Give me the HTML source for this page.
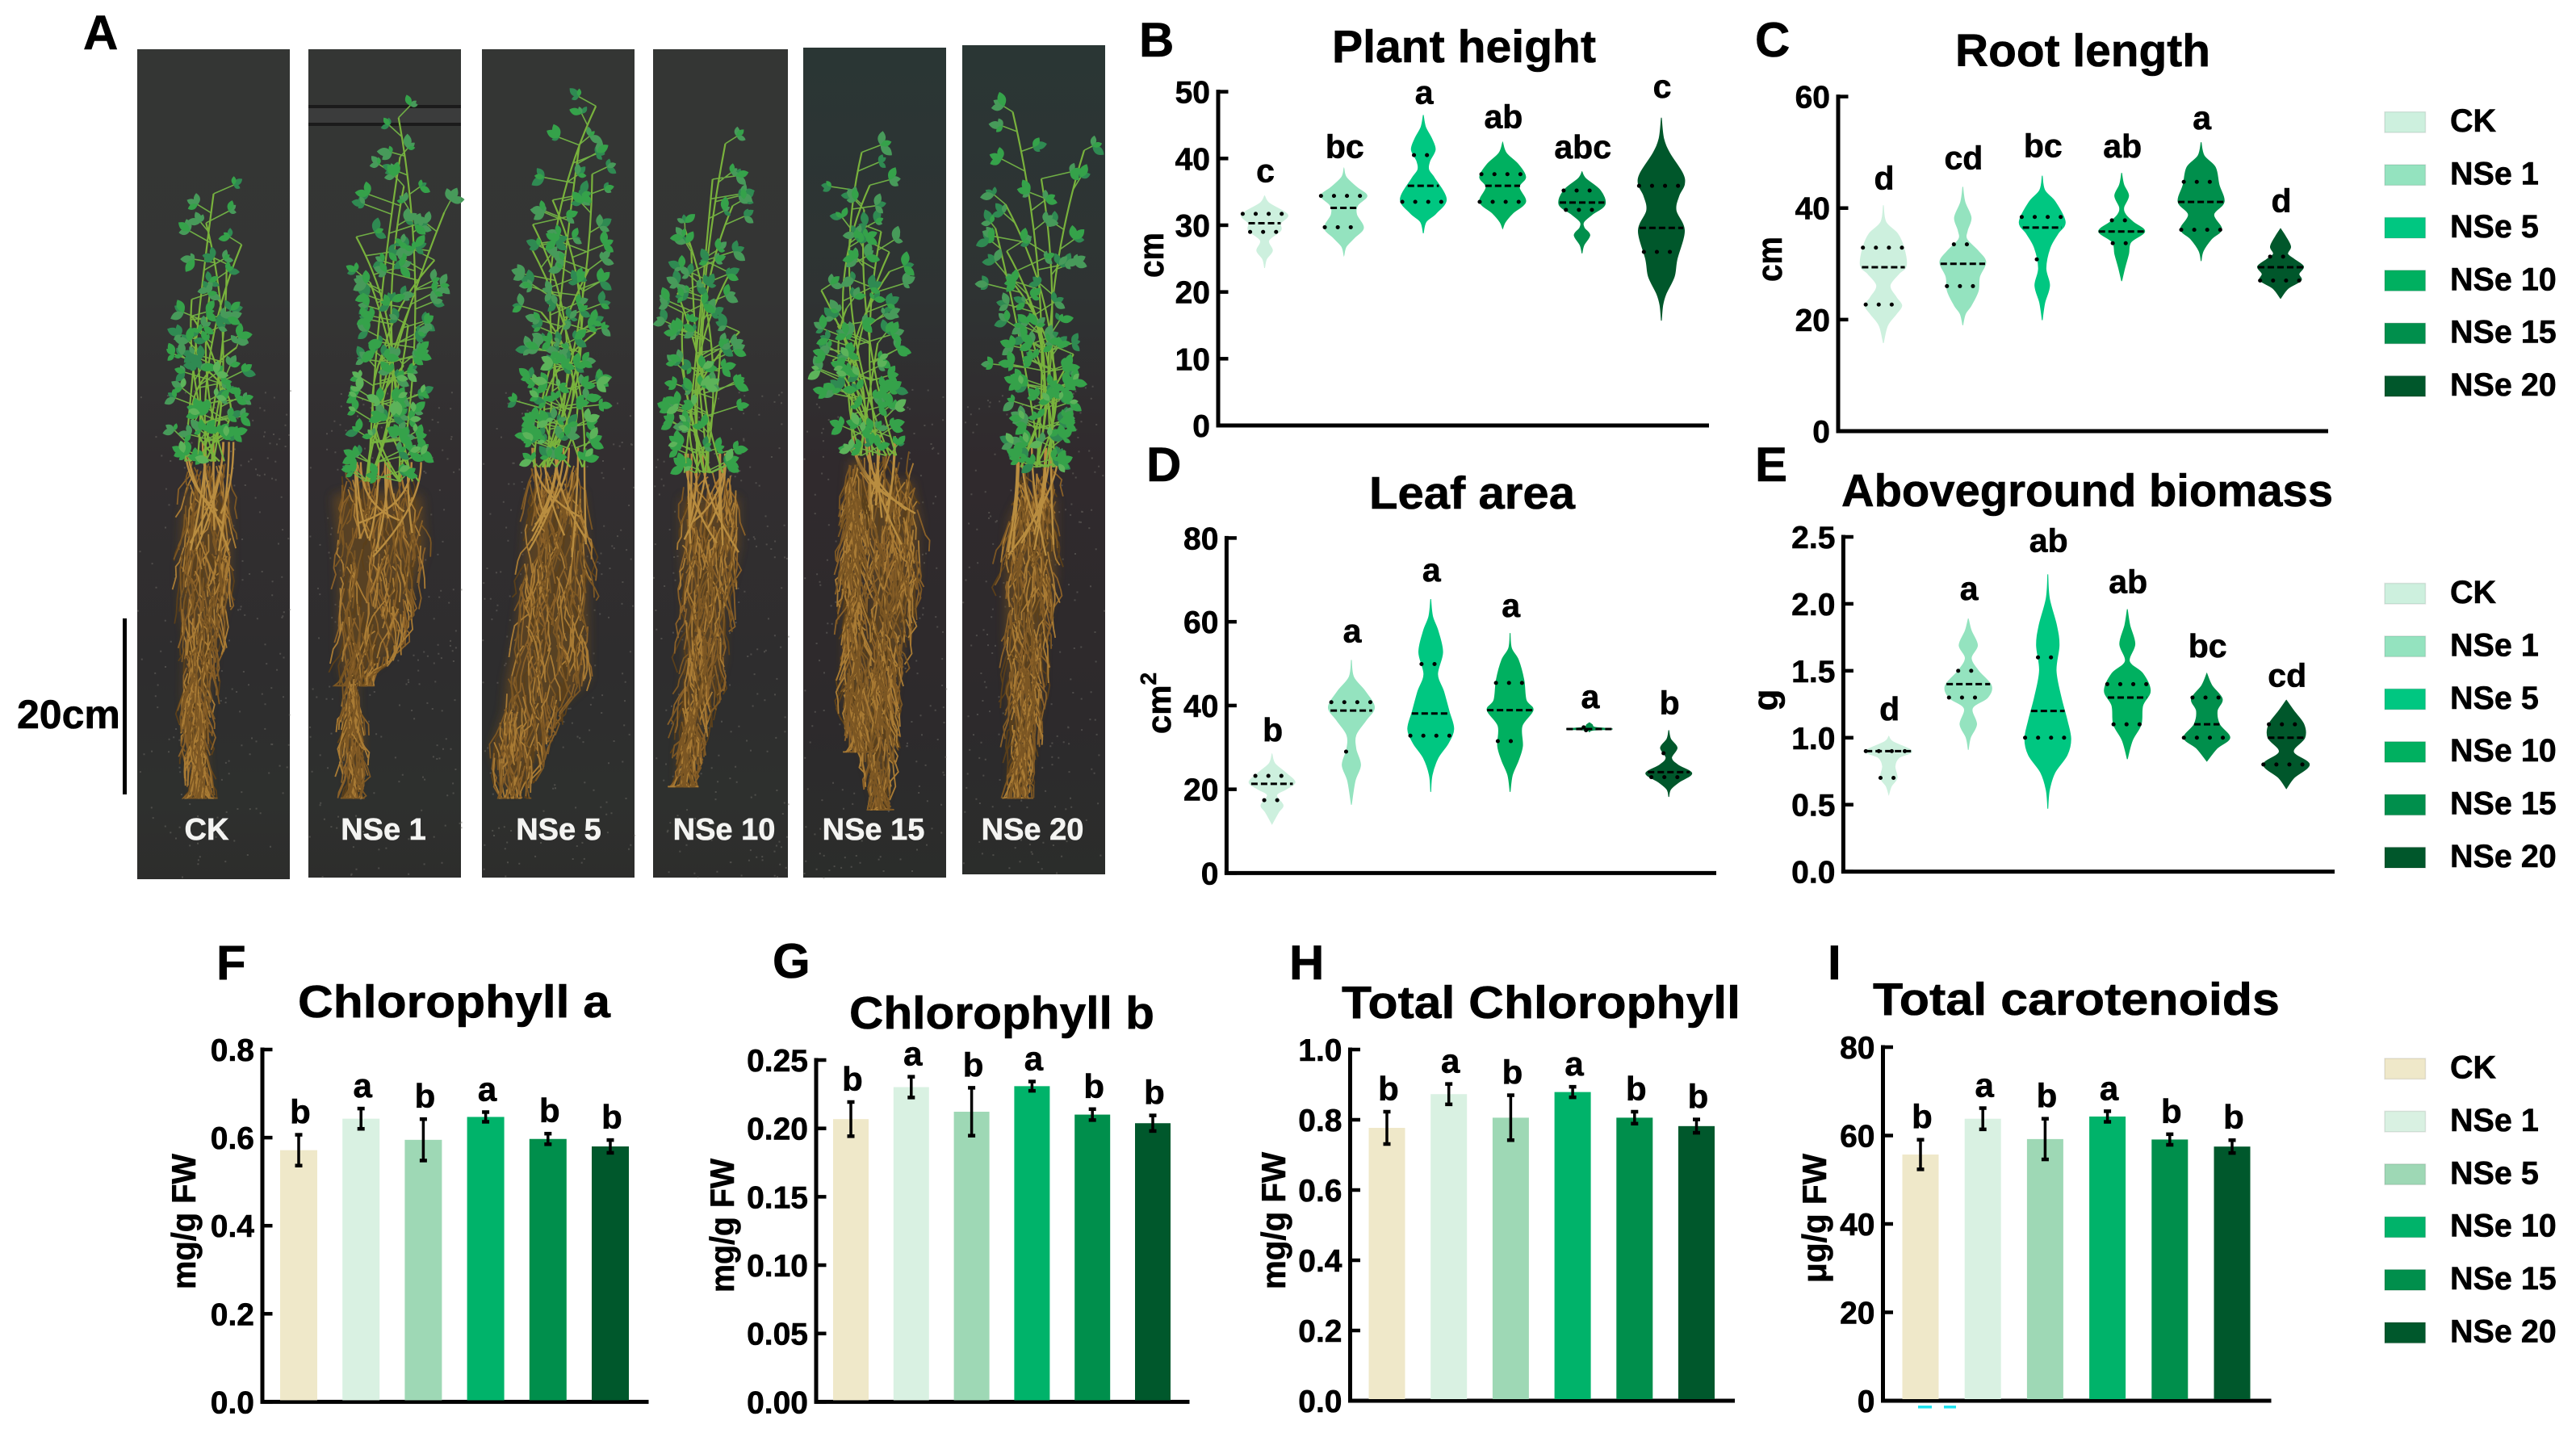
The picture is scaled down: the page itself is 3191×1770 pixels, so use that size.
<!DOCTYPE html>
<html lang="en">
<head>
<meta charset="utf-8">
<title>Effects of NSe treatment on plant growth and pigments</title>
<style>
html,body{margin:0;padding:0;background:#fff;}
svg{display:block;}
text{font-family:"Liberation Sans",Arial,sans-serif;font-weight:700;fill:#000;stroke:#000;stroke-width:.6px;}
</style>
</head>
<body>
<svg id="figure" xmlns="http://www.w3.org/2000/svg" width="3191" height="1770" viewBox="0 0 3191 1770">
<rect x="0" y="0" width="3191" height="1770" fill="#ffffff"/>
<defs>
<linearGradient id="bgA" x1="0" y1="0" x2="0" y2="1"><stop offset="0" stop-color="#343634"/><stop offset=".3" stop-color="#343534"/><stop offset=".5" stop-color="#322e30"/><stop offset=".75" stop-color="#2e2d2e"/><stop offset=".9" stop-color="#2e302e"/><stop offset="1" stop-color="#2d2d2c"/></linearGradient>
<linearGradient id="bgB" x1="0" y1="0" x2="0" y2="1"><stop offset="0" stop-color="#2a3634"/><stop offset=".3" stop-color="#2f3333"/><stop offset=".5" stop-color="#302a2d"/><stop offset=".8" stop-color="#2d2a2c"/><stop offset="1" stop-color="#2b2d2b"/></linearGradient>
<filter id="softEdge" x="-30%" y="-10%" width="160%" height="120%"><feGaussianBlur stdDeviation="6"/></filter>
</defs>
<g id="photos"></g>

<g font-size="60">
<text x="103" y="61">A</text>
<text x="1411" y="70">B</text>
<text x="2174" y="70">C</text>
<text x="1420" y="596">D</text>
<text x="2174" y="596">E</text>
<text x="268" y="1213">F</text>
<text x="957" y="1211">G</text>
<text x="1597" y="1213">H</text>
<text x="2264" y="1213">I</text>
</g>

<g>
<rect x="152" y="766" width="5" height="218" fill="#000"/>
<text x="21" y="902" font-size="50">20cm</text>
</g>

<g font-size="57">
<text x="1650" y="77" textLength="327" lengthAdjust="spacingAndGlyphs">Plant height</text>
<text x="2422" y="82" textLength="316" lengthAdjust="spacingAndGlyphs">Root length</text>
<text x="1696" y="630" textLength="255" lengthAdjust="spacingAndGlyphs">Leaf area</text>
<text x="2281" y="627" textLength="609" lengthAdjust="spacingAndGlyphs">Aboveground biomass</text>
<text x="369" y="1260" textLength="387" lengthAdjust="spacingAndGlyphs">Chlorophyll a</text>
<text x="1052" y="1274" textLength="378" lengthAdjust="spacingAndGlyphs">Chlorophyll b</text>
<text x="1662" y="1261" textLength="494" lengthAdjust="spacingAndGlyphs">Total Chlorophyll</text>
<text x="2320" y="1257" textLength="504" lengthAdjust="spacingAndGlyphs">Total carotenoids</text>
</g>

<g text-anchor="middle">
<text font-size="44" textLength="56" lengthAdjust="spacingAndGlyphs" transform="translate(1441 316) rotate(-90)">cm</text>
<text font-size="44" textLength="56" lengthAdjust="spacingAndGlyphs" transform="translate(2207 321) rotate(-90)">cm</text>
<text font-size="42" transform="translate(1450 871) rotate(-90)">cm<tspan font-size="28" dy="-18">2</tspan></text>
<text font-size="44" transform="translate(2202 867) rotate(-90)">g</text>
<text font-size="42" textLength="168" lengthAdjust="spacingAndGlyphs" transform="translate(242 1513) rotate(-90)">mg/g FW</text>
<text font-size="42" textLength="166" lengthAdjust="spacingAndGlyphs" transform="translate(909 1518) rotate(-90)">mg/g FW</text>
<text font-size="42" textLength="170" lengthAdjust="spacingAndGlyphs" transform="translate(1592 1512) rotate(-90)">mg/g FW</text>
<text font-size="42" textLength="160" lengthAdjust="spacingAndGlyphs" transform="translate(2262 1509) rotate(-90)">μg/g FW</text>
</g>

<g>
<rect x="2376" y="1741" width="17" height="3.5" fill="#1fe3f0"/>
<rect x="2408" y="1741" width="15" height="3.5" fill="#1fe3f0"/>
</g>
<g id="charts"></g>
</svg>

<script>
/* ---------- shared categories ---------- */
const groupNames = ['CK', 'NSe 1', 'NSe 5', 'NSe 10', 'NSe 15', 'NSe 20'];
const violinColors = ['#cdf0de', '#94e3bf', '#00c781', '#00b060', '#008f4c', '#00572b'];
const barColors = ['#efe8c9', '#d9f1e2', '#9ed8b5', '#00b36a', '#008f4c', '#00582c'];

/* ---------- B: plant height (value, relative density) ---------- */
const plantHeightTicks = ['0', '10', '20', '30', '40', '50'];
const plantHeightLetters = ['c', 'bc', 'a', 'ab', 'abc', 'c'];
const plantHeightQuartiles = [[31.7,30.3,29],[34.4,32.6,29.7],[40.5,35.9,33.5],[37.65,35.9,33.5],[35.2,33.4,32.3],[35.9,29.6,26]];
const plantHeightDensity = [
 [[34.4,0],[33.3,.2],[31.6,1],[30.3,.7],[29.2,.7],[27.7,.18],[26.2,.34],[24.9,.08],[23.6,0]],
 [[38.5,0],[37.2,.1],[35.7,.55],[34.4,1],[33,.6],[31.6,.55],[29.6,.85],[28.1,.45],[26.8,.1],[25.5,0]],
 [[46.5,0],[44.7,.1],[43,.36],[41.3,.52],[39.6,.28],[38.3,.24],[37,.5],[33.9,1],[31.8,.56],[30.5,.12],[28.8,0]],
 [[42.4,0],[40.8,.16],[39.1,.68],[37.2,1],[35.7,.72],[33.5,1],[31.8,.44],[30.5,.12],[29.5,0]],
 [[38,0],[37,.16],[35.2,.8],[33.1,1],[31.6,.44],[30.5,.08],[29.6,.1],[28.5,.34],[27,.08],[25.8,0]],
 [[46.1,0],[43,.1],[40.8,.36],[37.8,.92],[36.1,1],[34.4,.76],[32.2,.64],[29.2,1],[24.9,.68],[22.3,.56],[19.7,.2],[18,.06],[15.7,0]]
];

/* ---------- C: root length ---------- */
const rootLengthTicks = ['0', '20', '40', '60'];
const rootLengthLetters = ['d', 'cd', 'bc', 'ab', 'a', 'd'];
const rootLengthQuartiles = [[32.9,29.4,22.7],[33.5,30,26],[38.4,36.5,30.8],[37.8,35.8,33.7],[44.7,41.1,36.1],[31.3,29.4,27]];
const rootLengthDensity = [
 [[40.5,0],[37.5,.11],[35.4,.62],[32.9,.89],[29.7,1],[28.2,.67],[26.1,.29],[24,.56],[22.5,.8],[21,.56],[18.9,.18],[15.8,0]],
 [[43.8,0],[41.1,.09],[38.3,.36],[36,.2],[34.4,.18],[32.3,.67],[30.3,1],[27.7,.73],[25.1,.67],[22.5,.36],[21,.11],[19,0]],
 [[45.8,0],[43.2,.11],[41.1,.57],[37.5,1],[35.4,.68],[32.9,.34],[29.2,.16],[26.1,.32],[23,.11],[19.9,0]],
 [[46.3,0],[44.2,.09],[42.2,.3],[40.1,.09],[38.8,.18],[37.5,.5],[35.8,1],[33.9,.4],[31.8,.3],[29.2,.13],[26.9,0]],
 [[51.8,0],[49.4,.13],[47.3,.62],[44.2,.78],[41.1,1],[38.8,.55],[36.2,.89],[34.4,.44],[32.3,.09],[30.5,0]],
 [[36.3,0],[34.9,.22],[33.1,.44],[31.8,.31],[30.8,.6],[29.5,1],[28.2,.8],[27,.89],[25.6,.33],[23.8,0]]
];

/* ---------- D: leaf area ---------- */
const leafAreaTicks = ['0', '20', '40', '60', '80'];
const leafAreaLetters = ['b', 'a', 'a', 'a', 'a', 'b'];
const leafAreaQuartiles = [[23.2,21.3,17.4],[40.8,38.8,29],[49.9,38.1,32.8],[45.4,38.9,31.5],[34.8,34.4,34.1],[28.6,24.1,22.9]];
const leafAreaDensity = [
 [[28.4,0],[26.2,.12],[24.1,.56],[21.7,1],[20,.6],[18.6,.2],[16.2,.48],[14.5,.28],[11.7,0]],
 [[50.9,0],[46.8,.1],[43.4,.6],[39.6,1],[36.5,.64],[33,.2],[29.6,.2],[25.8,.4],[22,.16],[16.3,0]],
 [[65.4,0],[61.3,.08],[57.8,.32],[52.7,.52],[47.5,.3],[43.4,.56],[38.6,.8],[34.4,1],[31,.76],[27.5,.32],[23.4,.06],[19.4,0]],
 [[57.3,0],[53.7,.06],[50.9,.36],[46.1,.6],[41.3,.7],[38.9,1],[35.1,.52],[30.3,.54],[26.9,.36],[23.4,.1],[19.4,0]],
 [[35.9,0],[35.45,.12],[34.8,.25],[34.4,1],[34.1,.15],[33.7,0]],
 [[34.1,0],[32,.08],[29.9,.36],[27.5,.12],[25.8,.4],[23.8,1],[21.7,.44],[20,.08],[18.2,0]]
];

/* ---------- E: aboveground biomass ---------- */
const biomassTicks = ['0.0', '0.5', '1.0', '1.5', '2.0', '2.5'];
const biomassLetters = ['d', 'a', 'ab', 'ab', 'bc', 'cd'];
const biomassQuartiles = [[.9,.9,.7],[1.5,1.4,1.3],[1.6,1.2,1],[1.4,1.3,1.1],[1.3,1.1,1],[1.1,1,.8]];
const biomassDensity = [
 [[1.01,0],[.97,.18],[.9,1],[.85,.44],[.787,.27],[.7,.36],[.636,.11],[.575,0]],
 [[1.89,0],[1.8,.13],[1.69,.4],[1.595,.13],[1.5,.44],[1.39,1],[1.3,.84],[1.22,.18],[1.1,.36],[1,.09],[.91,0]],
 [[2.22,0],[2.04,.07],[1.84,.38],[1.69,.49],[1.5,.36],[1.3,.58],[1.13,.84],[.99,1],[.87,.84],[.74,.31],[.61,.07],[.47,0]],
 [[1.96,0],[1.84,.11],[1.7,.33],[1.57,.09],[1.48,.67],[1.35,1],[1.24,.67],[1.1,.6],[.98,.22],[.84,0]],
 [[1.48,0],[1.39,.22],[1.29,.67],[1.2,.45],[1.1,.55],[1,1],[.92,.44],[.825,0]],
 [[1.28,0],[1.2,.33],[1.1,.76],[1,.8],[.895,.31],[.8,1],[.7,.33],[.62,0]]
];

/* ---------- F: chlorophyll a ---------- */
const chlorophyllATicks = ['0.0', '0.2', '0.4', '0.6', '0.8'];
const chlorophyllAMeans = [.5715, .643, .595, .647, .597, .58];
const chlorophyllAErrors = [.035, .023, .047, .011, .012, .0145];
const chlorophyllALetters = ['b', 'a', 'b', 'a', 'b', 'b'];

/* ---------- G: chlorophyll b ---------- */
const chlorophyllBTicks = ['0.00', '0.05', '0.10', '0.15', '0.20', '0.25'];
const chlorophyllBMeans = [.2068, .2302, .2122, .2309, .2101, .2038];
const chlorophyllBErrors = [.0125, .0076, .0175, .0034, .004, .0057];
const chlorophyllBLetters = ['b', 'a', 'b', 'a', 'b', 'b'];

/* ---------- H: total chlorophyll ---------- */
const totalChlorophyllTicks = ['0.0', '0.2', '0.4', '0.6', '0.8', '1.0'];
const totalChlorophyllMeans = [.777, .873, .806, .879, .806, .782];
const totalChlorophyllErrors = [.046, .029, .064, .015, .017, .019];
const totalChlorophyllLetters = ['b', 'a', 'b', 'a', 'b', 'b'];

/* ---------- I: total carotenoids ---------- */
const carotenoidTicks = ['0', '20', '40', '60', '80'];
const carotenoidMeans = [55.7, 63.8, 59.2, 64.3, 59.1, 57.5];
const carotenoidErrors = [3.35, 2.4, 4.6, 1.2, 1.2, 1.45];
const carotenoidLetters = ['b', 'a', 'b', 'a', 'b', 'b'];

/* ---------- helpers ---------- */
const svgNS = 'http://www.w3.org/2000/svg';
const chartsLayer = document.getElementById('charts');
const photosLayer = document.getElementById('photos');

function make(tag, attrs, parent) {
  const el = document.createElementNS(svgNS, tag);
  for (const key in attrs) el.setAttribute(key, attrs[key]);
  parent.appendChild(el);
  return el;
}

function smoothCurve(points) {
  let d = '';
  for (let i = 0; i < points.length - 1; i++) {
    const p0 = points[Math.max(i - 1, 0)], p1 = points[i], p2 = points[i + 1], p3 = points[Math.min(i + 2, points.length - 1)];
    const c1x = p1[0] + (p2[0] - p0[0]) / 6, c1y = p1[1] + (p2[1] - p0[1]) / 6;
    const c2x = p2[0] - (p3[0] - p1[0]) / 6, c2y = p2[1] - (p3[1] - p1[1]) / 6;
    d += 'C' + c1x.toFixed(1) + ' ' + c1y.toFixed(1) + ' ' + c2x.toFixed(1) + ' ' + c2y.toFixed(1) + ' ' + p2[0].toFixed(1) + ' ' + p2[1].toFixed(1);
  }
  return d;
}

function densityAt(knots, value) {
  for (let i = 0; i < knots.length - 1; i++) {
    const a = knots[i], b = knots[i + 1];
    if (value <= a[0] && value >= b[0]) {
      const t = (a[0] - value) / ((a[0] - b[0]) || 1);
      return a[1] + (b[1] - a[1]) * t;
    }
  }
  return 0;
}

function drawAxes(group, cfg, ticks) {
  const yMax = parseFloat(ticks[ticks.length - 1]);
  const y = v => cfg.bottom - (v / yMax) * (cfg.bottom - cfg.top);
  const yAxis = make('line', {x1: cfg.left, x2: cfg.left, y1: cfg.top - 2.5, y2: cfg.bottom + 2, stroke: '#000', 'stroke-width': 5}, group);
  
  
  const xAxis = make('line', {x1: cfg.left - 2.5, x2: cfg.right, y1: cfg.bottom, y2: cfg.bottom, stroke: '#000', 'stroke-width': 5}, group);
  
  
  ticks.forEach(label => {
    const v = parseFloat(label);
    const tick = make('line', {x1: cfg.left, x2: cfg.left + 12.5, y1: y(v), y2: y(v), stroke: '#000', 'stroke-width': 4.5}, group);
    
    
    const text = make('text', {x: cfg.left - 10, y: y(v) + 14, 'font-size': 39, 'text-anchor': 'end'}, group);
    
    
    text.textContent = label;
  });
  return y;
}

function drawViolinPanel(cfg, ticks, density, quartiles, letters) {
  const group = make('g', {}, chartsLayer);
  
  
  const y = drawAxes(group, cfg, ticks);
  const xBand = i => cfg.first + i * cfg.step;
  const halfMax = 28.5;
  density.forEach((knots, i) => {
    const cx = xBand(i);
    const right = knots.map(k => [cx + k[1] * halfMax, y(k[0])]);
    const left = knots.slice().reverse().map(k => [cx - k[1] * halfMax, y(k[0])]);
    const d = 'M' + right[0][0].toFixed(1) + ' ' + right[0][1].toFixed(1) + smoothCurve(right) + smoothCurve(left) + 'Z';
    const violin = make('path', {d: d, fill: violinColors[i], stroke: violinColors[i], 'stroke-width': 1}, group);
    
    
    quartiles[i].forEach((q, qi) => {
      const half = densityAt(knots, q) * halfMax;
      const isMedian = qi === 1;
      const line = make('line', {
        x1: cx - half, x2: cx + half, y1: y(q), y2: y(q), stroke: '#000',
        'stroke-width': isMedian ? 3 : 5,
        'stroke-dasharray': isMedian ? '8 4' : '0.1 16',
        'stroke-linecap': isMedian ? 'butt' : 'round'
      }, group);
      
      
    });
    const letter = make('text', {x: cx + 1, y: y(knots[0][0]) - cfg.gaps[i], 'font-size': 41, 'text-anchor': 'middle'}, group);
    
    
    letter.textContent = letters[i];
  });
}

function drawBarPanel(cfg, ticks, means, errors, letters) {
  const group = make('g', {}, chartsLayer);
  
  
  const y = drawAxes(group, cfg, ticks);
  const xBand = i => cfg.first + i * cfg.step;
  means.forEach((m, i) => {
    const cx = xBand(i);
    const bar = make('rect', {x: cx - cfg.barWidth / 2, y: y(m), width: cfg.barWidth, height: cfg.bottom - 2 - y(m), fill: barColors[i]}, group);
    
    
    const hi = y(m + errors[i]), lo = y(m - errors[i]);
    const whisker = make('line', {x1: cx, x2: cx, y1: hi, y2: lo, stroke: '#000', 'stroke-width': 3.5}, group);
    
    
    [hi, lo].forEach(cy => {
      const cap = make('line', {x1: cx - 4.5, x2: cx + 4.5, y1: cy, y2: cy, stroke: '#000', 'stroke-width': 4.5}, group);
      
      
    });
    const letter = make('text', {x: cx + 2, y: hi - 14, 'font-size': 42, 'text-anchor': 'middle'}, group);
    
    
    letter.textContent = letters[i];
  });
}

function drawLegend(firstTop, colors, legendName) {
  const group = make('g', {}, chartsLayer);
  
  
  groupNames.forEach((label, i) => {
    const rowTop = firstTop + i * 65.4;
    const swatch = make('rect', {x: 2954, y: rowTop, width: 50.5, height: 25.5, fill: colors[i], stroke: '#00000018', 'stroke-width': 1.5}, group);
    
    
    const text = make('text', {x: 3035, y: rowTop + 24.5, 'font-size': 39.5}, group);
    
    
    text.textContent = label;
  });
}

/* ---------- chart panels ---------- */
drawViolinPanel({name: 'chart-plant-height', left: 1509, right: 2117, top: 113.6, bottom: 527, first: 1566.5, step: 98.3, gaps: [17,13,14,18,17,25]}, plantHeightTicks, plantHeightDensity, plantHeightQuartiles, plantHeightLetters);
drawViolinPanel({name: 'chart-root-length', left: 2277, right: 2884, top: 119.6, bottom: 534, first: 2333, step: 98.4, gaps: [20,22,23,19,16,21]}, rootLengthTicks, rootLengthDensity, rootLengthQuartiles, rootLengthLetters);
drawViolinPanel({name: 'chart-leaf-area', left: 1519.4, right: 2126, top: 666.4, bottom: 1081.4, first: 1575.7, step: 98.3, gaps: [16,22,22,20,18,20]}, leafAreaTicks, leafAreaDensity, leafAreaQuartiles, leafAreaLetters);
drawViolinPanel({name: 'chart-aboveground-biomass', left: 2283.4, right: 2892, top: 665, bottom: 1079.6, first: 2339.7, step: 98.5, gaps: [20,23,28,20,20,17]}, biomassTicks, biomassDensity, biomassQuartiles, biomassLetters);

drawBarPanel({name: 'chart-chlorophyll-a', left: 325, right: 803.5, top: 1300, bottom: 1736.4, first: 370, step: 77.2, barWidth: 46}, chlorophyllATicks, chlorophyllAMeans, chlorophyllAErrors, chlorophyllALetters);
drawBarPanel({name: 'chart-chlorophyll-b', left: 1011, right: 1473.5, top: 1313, bottom: 1736.4, first: 1054, step: 74.8, barWidth: 44}, chlorophyllBTicks, chlorophyllBMeans, chlorophyllBErrors, chlorophyllBLetters);
drawBarPanel({name: 'chart-total-chlorophyll', left: 1672.5, right: 2149, top: 1300, bottom: 1735, first: 1718, step: 76.7, barWidth: 45}, totalChlorophyllTicks, totalChlorophyllMeans, totalChlorophyllErrors, totalChlorophyllLetters);
drawBarPanel({name: 'chart-total-carotenoids', left: 2332.5, right: 2813.5, top: 1297, bottom: 1735, first: 2379, step: 77.2, barWidth: 45}, carotenoidTicks, carotenoidMeans, carotenoidErrors, carotenoidLetters);

drawLegend(138.6, violinColors, 'legend-growth-top');
drawLegend(722.5, violinColors, 'legend-growth-bottom');
drawLegend(1311, barColors, 'legend-pigments');

/* ---------- photo panel A (decorative illustration) ---------- */
let textureState = 12345;
function tex() {
  textureState = (textureState * 1664525 + 1013904223) % 4294967296;
  return textureState / 4294967296;
}
function span(profile, y) {
  if (y <= profile[0][0]) return [profile[0][1], profile[0][2]];
  for (let i = 0; i < profile.length - 1; i++) {
    const a = profile[i], b = profile[i + 1];
    if (y >= a[0] && y <= b[0]) {
      const t = (y - a[0]) / ((b[0] - a[0]) || 1);
      return [a[1] + (b[1] - a[1]) * t, a[2] + (b[2] - a[2]) * t];
    }
  }
  const last = profile[profile.length - 1];
  return [last[1], last[2]];
}
function outline(profile) {
  const L = profile.map(p => p[1].toFixed(1) + ' ' + p[0].toFixed(1));
  const R = profile.slice().reverse().map(p => p[2].toFixed(1) + ' ' + p[0].toFixed(1));
  return 'M' + L.join('L') + 'L' + R.join('L') + 'Z';
}
function toPx(profile) {
  return profile.map(p => [p[0] / 1.4, p[1] / 1.12, p[2] / 1.12]);
}
function leafShape(x, y, angle, len) {
  const cos = Math.cos(angle), sin = Math.sin(angle);
  const tipX = x + cos * len, tipY = y + sin * len;
  const midX = x + cos * len * .5, midY = y + sin * len * .5;
  const w = len * .55;
  return 'M' + x.toFixed(1) + ' ' + y.toFixed(1) +
    'Q' + (midX - sin * w).toFixed(1) + ' ' + (midY + cos * w).toFixed(1) + ' ' + tipX.toFixed(1) + ' ' + tipY.toFixed(1) +
    'Q' + (midX + sin * w).toFixed(1) + ' ' + (midY - cos * w).toFixed(1) + ' ' + x.toFixed(1) + ' ' + y.toFixed(1) + 'Z';
}

const photoList = [
 {label: 'CK', x: 170, y: 61, w: 189, h: 1028, bg: 'bgA', tx: 256,
  leaf: [[322,265,320],[380,262,355],[460,265,335],[560,255,330],[640,240,330],[700,235,345],[740,232,375],[800,255,330]],
  roots: [[[800,258,318],[900,252,320],[1000,250,320],[1060,252,310],[1100,258,300],[1200,255,290],[1280,262,285],[1370,268,290]]]},
 {label: 'NSe 1', x: 382, y: 61, w: 189, h: 1026, bg: 'bgA', tx: 475,
  band: [132, 22],
  leaf: [[190,535,570],[280,545,565],[320,505,625],[400,490,625],[500,495,612],[600,510,578],[700,495,585],[835,490,585]],
  roots: [[[800,480,560],[860,462,585],[950,468,590],[1050,470,565],[1130,470,545],[1175,475,500]],[[1170,482,495],[1240,484,496],[1275,478,505],[1320,482,505],[1370,485,492]]]},
 {label: 'NSe 5', x: 597, y: 61, w: 189, h: 1026, bg: 'bgA', tx: 692,
  leaf: [[170,810,850],[220,785,852],[300,750,842],[400,728,842],[500,710,832],[600,738,835],[700,715,835],[810,738,812]],
  roots: [[[800,738,808],[900,730,812],[1000,725,815],[1100,715,816],[1180,703,816],[1230,700,770],[1300,682,750],[1370,702,720]]]},
 {label: 'NSe 10', x: 809, y: 61, w: 167, h: 1026, bg: 'bgA', tx: 897,
  leaf: [[235,985,1030],[320,950,1050],[400,950,1040],[500,935,1065],[580,920,1040],[650,930,1005],[720,925,1038],[820,948,1008]],
  roots: [[[810,945,1025],[950,945,1025],[1050,950,1005],[1150,950,1003],[1250,945,975],[1350,940,955]]]},
 {label: 'NSe 15', x: 995, y: 59, w: 177, h: 1028, bg: 'bgB', tx: 1082,
  leaf: [[250,1155,1225],[300,1155,1265],[400,1150,1245],[480,1130,1255],[620,1125,1245],[700,1150,1240],[790,1180,1245]],
  roots: [[[780,1190,1265],[900,1195,1276],[1000,1210,1272],[1100,1205,1255],[1200,1195,1240],[1300,1198,1235],[1390,1216,1226]],[[800,1178,1198],[950,1172,1192],[1100,1172,1198],[1200,1170,1200],[1290,1185,1205]]]},
 {label: 'NSe 20', x: 1192, y: 56, w: 177, h: 1027, bg: 'bgB', tx: 1279,
  leaf: [[180,1375,1400],[230,1380,1520],[300,1385,1510],[400,1375,1490],[500,1370,1490],[600,1360,1500],[700,1395,1485],[810,1410,1470]],
  roots: [[[810,1415,1465],[900,1400,1465],[1000,1395,1465],[1100,1395,1447],[1200,1400,1445],[1300,1405,1430],[1370,1402,1420]]]}
];

photoList.forEach(photo => {
  const g = make('g', {}, photosLayer);
  
  

  const bg = make('rect', {x: photo.x, y: photo.y, width: photo.w, height: photo.h, fill: 'url(#' + photo.bg + ')'}, g);
  
  

  if (photo.band) {
    const band = make('rect', {x: photo.x, y: photo.band[0], width: photo.w, height: photo.band[1], fill: '#3b3c3c'}, g);
    
    
    const edges = make('path', {d: 'M' + photo.x + ' ' + photo.band[0] + 'h' + photo.w + 'M' + photo.x + ' ' + (photo.band[0] + photo.band[1]) + 'h' + photo.w, stroke: '#1b1b1b', 'stroke-width': 4, fill: 'none'}, g);
    
    
  }

  let dots = '';
  for (let i = 0; i < 220; i++) {
    const px = photo.x + tex() * photo.w, py = photo.y + 420 + tex() * (photo.h - 420);
    dots += 'M' + px.toFixed(1) + ' ' + py.toFixed(1) + 'h2v2h-2z';
  }
  const speck = make('path', {d: dots, fill: '#77756f', opacity: .45}, g);
  
  

  /* roots */
  const leaf = toPx(photo.leaf);
  const topY = leaf[0][0], baseY = leaf[leaf.length - 1][0];
  const baseSpan = span(leaf, baseY);

  photo.roots.forEach((rawProfile, rootIndex) => {
    const prof = toPx(rawProfile);
    const soft = prof.map((p, i) => i === 0 && rootIndex === 0 ? [p[0] + 38, p[1], p[2]] : p);
    const body = make('path', {d: outline(soft), fill: '#5f4420', opacity: .85, filter: 'url(#softEdge)'}, g);
    
    
    const rootTones = ['#5a3f1a', '#8a6028', '#a97b34', '#7b5623'];
    const rootPaths = ['', '', '', ''];
    const y0 = prof[0][0], y1 = prof[prof.length - 1][0];
    const count = Math.round((y1 - y0) * .9);
    for (let i = 0; i < count; i++) {
      let ry = y0 + tex() * (y1 - y0);
      const s = span(prof, ry);
      let rx = s[0] + tex() * (s[1] - s[0]);
      let lean = (tex() - .5) * 9;
      let d = 'M' + rx.toFixed(1) + ' ' + ry.toFixed(1);
      for (let k = 0; k < 4; k++) {
        rx += lean + (tex() - .5) * 9;
        ry += 5 + tex() * 15;
        const lim = span(prof, ry);
        const slack = 5 + tex() * 12;
        rx = Math.min(Math.max(rx, lim[0] - slack), lim[1] + slack);
        d += 'L' + rx.toFixed(1) + ' ' + Math.min(ry, y1 + 10).toFixed(1);
      }
      rootPaths[i % 4] += d;
    }
    rootPaths.forEach((d, i) => {
      const strands = make('path', {d: d, fill: 'none', stroke: rootTones[i], 'stroke-width': 1.8}, g);
      
      
    });
    if (rootIndex === 0) {
      let crowns = '';
      for (let i = 0; i < 10; i++) {
        const fromX = baseSpan[0] + tex() * (baseSpan[1] - baseSpan[0]);
        const target = span(prof, y0 + 70 + tex() * 70);
        const toX = target[0] + tex() * (target[1] - target[0]);
        const endY = y0 + 60 + tex() * 60;
        crowns += 'M' + fromX.toFixed(1) + ' ' + (baseY - 24).toFixed(1) + 'Q' + fromX.toFixed(1) + ' ' + (baseY + 30).toFixed(1) + ' ' + toX.toFixed(1) + ' ' + endY.toFixed(1);
      }
      const crownPath = make('path', {d: crowns, fill: 'none', stroke: '#b98d40', 'stroke-width': 2.4}, g);
      
      
    }
  });

  /* stems and leaves */
  const stemCount = 11;
  let stems = '', twigs = '';
  const leafTones = ['#2f8a52', '#479a5a', '#35a24a', '#5cb35a'];
  const leafPaths = ['', '', '', ''];
  for (let i = 0; i < stemCount; i++) {
    const ty = topY + 10 + Math.pow(i / stemCount, .8) * (baseY - topY) * .72;
    const topSpan = span(leaf, ty);
    const tx = i === 0 ? (topSpan[0] + topSpan[1]) / 2 : topSpan[0] + tex() * (topSpan[1] - topSpan[0]);
    const bx = baseSpan[0] + tex() * (baseSpan[1] - baseSpan[0]);
    const midY = (ty + baseY) / 2;
    const midSpan = span(leaf, midY);
    const midX = midSpan[0] + (.25 + tex() * .5) * (midSpan[1] - midSpan[0]);
    const cx = 2 * midX - (bx + tx) / 2;
    stems += 'M' + bx.toFixed(1) + ' ' + baseY.toFixed(1) + 'Q' + cx.toFixed(1) + ' ' + midY.toFixed(1) + ' ' + tx.toFixed(1) + ' ' + ty.toFixed(1);
    const steps = Math.round((baseY - ty) / 24);
    for (let k = 0; k <= steps; k++) {
      if (k < steps && tex() > .66) continue;
      const t = k / (steps || 1);
      const u = 1 - t;
      const px = u * u * bx + 2 * u * t * cx + t * t * tx;
      const py = u * u * baseY + 2 * u * t * midY + t * t * ty;
      const limits = span(leaf, py);
      const side = tex() < .5 ? -1 : 1;
      let qx = px + side * (6 + tex() * 36);
      qx = Math.min(Math.max(qx, limits[0]), limits[1]);
      const qy = py - 4 - tex() * 12;
      twigs += 'M' + px.toFixed(1) + ' ' + py.toFixed(1) + 'L' + qx.toFixed(1) + ' ' + qy.toFixed(1);
      const heading = Math.atan2(qy - py, qx - px);
      [-.9, 0, .9].forEach(offset => {
        const tone = py > baseY - (baseY - topY) * .3 ? (tex() < .55 ? 2 : Math.floor(tex() * 4)) : Math.floor(tex() * 3);
        leafPaths[tone] += leafShape(qx, qy, heading + offset + (tex() - .5) * .5, 9 + tex() * 10);
      });
    }
  }
  const twigPath = make('path', {d: twigs, fill: 'none', stroke: '#6fae45', 'stroke-width': 1.6}, g);
  
  
  const stemPath = make('path', {d: stems, fill: 'none', stroke: '#79b23c', 'stroke-width': 2.2}, g);
  
  
  leafPaths.forEach((d, i) => {
    const leaves = make('path', {d: d, fill: leafTones[i]}, g);
    
    
  });

  const label = make('text', {x: photo.tx, y: 1040, 'font-size': 38, 'text-anchor': 'middle'}, g);
  label.style.fill = '#f4f4f2';
  label.style.stroke = '#f4f4f2';
  
  
  label.textContent = photo.label;
});
</script>
</body>
</html>
